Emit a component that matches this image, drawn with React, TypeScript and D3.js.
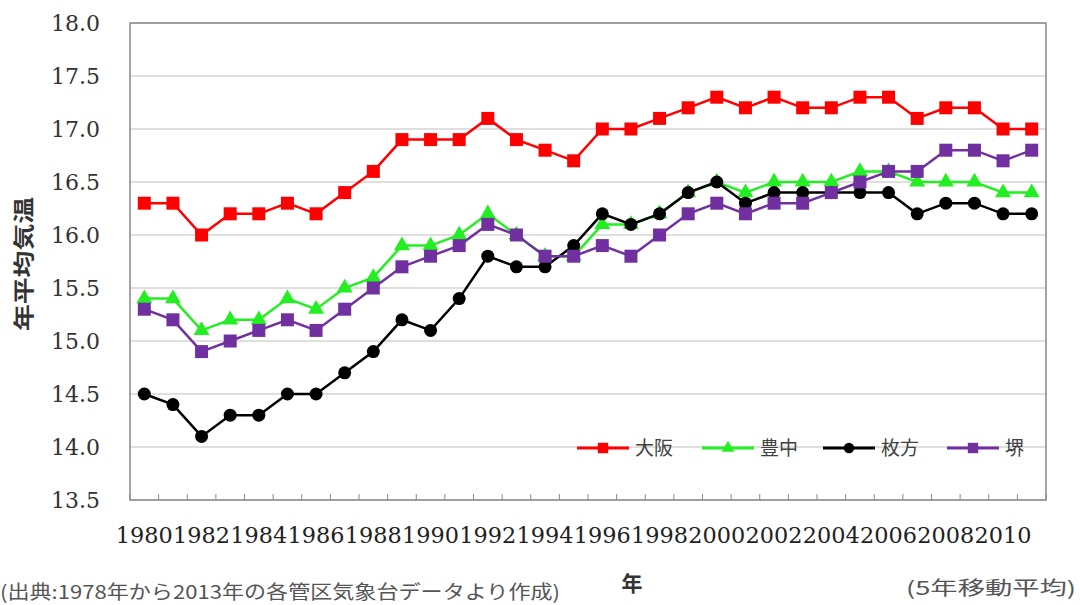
import React from "react";
import * as d3 from "d3";

const years: number[] = Array.from({ length: 32 }, (_, i) => 1980 + i);
const osaka = [16.3, 16.3, 16.0, 16.2, 16.2, 16.3, 16.2, 16.4, 16.6, 16.9, 16.9, 16.9, 17.1, 16.9, 16.8, 16.7, 17.0, 17.0, 17.1, 17.2, 17.3, 17.2, 17.3, 17.2, 17.2, 17.3, 17.3, 17.1, 17.2, 17.2, 17.0, 17.0];
const toyonaka = [15.4, 15.4, 15.1, 15.2, 15.2, 15.4, 15.3, 15.5, 15.6, 15.9, 15.9, 16.0, 16.2, 16.0, 15.8, 15.8, 16.1, 16.1, 16.2, 16.4, 16.5, 16.4, 16.5, 16.5, 16.5, 16.6, 16.6, 16.5, 16.5, 16.5, 16.4, 16.4];
const hirakata = [14.5, 14.4, 14.1, 14.3, 14.3, 14.5, 14.5, 14.7, 14.9, 15.2, 15.1, 15.4, 15.8, 15.7, 15.7, 15.9, 16.2, 16.1, 16.2, 16.4, 16.5, 16.3, 16.4, 16.4, 16.4, 16.4, 16.4, 16.2, 16.3, 16.3, 16.2, 16.2];
const sakai = [15.3, 15.2, 14.9, 15.0, 15.1, 15.2, 15.1, 15.3, 15.5, 15.7, 15.8, 15.9, 16.1, 16.0, 15.8, 15.8, 15.9, 15.8, 16.0, 16.2, 16.3, 16.2, 16.3, 16.3, 16.4, 16.5, 16.6, 16.6, 16.8, 16.8, 16.7, 16.8];
const yTicks = [13.5, 14.0, 14.5, 15.0, 15.5, 16.0, 16.5, 17.0, 17.5, 18.0];
const xLabelYears = years.filter((y) => y % 2 === 0);

type Shape = "square" | "triangle" | "circle";
const series: { name: string; values: number[]; color: string; shape: Shape }[] = [
  { name: "大阪", values: osaka, color: "#ff0000", shape: "square" },
  { name: "豊中", values: toyonaka, color: "#22ee22", shape: "triangle" },
  { name: "枚方", values: hirakata, color: "#000000", shape: "circle" },
  { name: "堺", values: sakai, color: "#7030a0", shape: "square" },
];
const drawOrder = [0, 1, 2, 3];

const W = 1080, H = 605;
const L = 130, R = 1046, T = 23, B = 500;

function Marker({ shape, x, y, color, scale = 1 }: { shape: Shape; x: number; y: number; color: string; scale?: number }) {
  if (shape === "square") {
    const s = 13 * scale;
    return <rect x={x - s / 2} y={y - s / 2} width={s} height={s} fill={color} />;
  }
  if (shape === "circle") {
    return <circle cx={x} cy={y} r={6.5 * scale} fill={color} />;
  }
  const sym = d3.symbol().type(d3.symbolTriangle).size(110 * scale * scale)();
  return <path d={sym || ""} transform={`translate(${x},${y})`} fill={color} />;
}

export default function App() {
  const x = d3.scaleBand<number>().domain(years).range([L, R]).padding(0);
  const y = d3.scaleLinear().domain([13.5, 18.0]).range([B, T]);
  const cx = (yr: number) => (x(yr) as number) + x.bandwidth() / 2;
  const line = d3
    .line<number>()
    .x((_, i) => cx(years[i]))
    .y((d) => y(d));

  const tickXs = years.map((yr) => x(yr) as number).concat([R]);
  const legendX = [577, 702, 823, 947];
  const legendY = 448;

  return (
    <svg width={W} height={H} style={{ position: "absolute", left: 0, top: 0, background: "#fff" }}>
      <rect x={0} y={0} width={W} height={H} fill="#fff" />
      {yTicks.map((t) => (
        <line key={t} x1={L} x2={R} y1={y(t)} y2={y(t)} stroke="#d4d4d4" strokeWidth={1.5} />
      ))}
      <rect x={L} y={T} width={R - L} height={B - T} fill="none" stroke="#8a8a8a" strokeWidth={1.5} />
      {tickXs.map((tx, i) => (
        <line key={i} x1={tx} x2={tx} y1={B} y2={B - 6} stroke="#8a8a8a" strokeWidth={1} />
      ))}
      {yTicks.map((t) => (
        <text key={t} x={100} y={y(t)} dy="0.36em" textAnchor="end" fontFamily="'DejaVu Serif'" fontSize={22} fill="#333">
          {t.toFixed(1)}
        </text>
      ))}
      {xLabelYears.map((yr) => (
        <text key={yr} x={cx(yr)} y={543} textAnchor="middle" fontFamily="'DejaVu Serif'" fontSize={22} fill="#222" textLength={57} lengthAdjust="spacingAndGlyphs">
          {yr}
        </text>
      ))}
      {drawOrder.map((si) => {
        const s = series[si];
        return (
          <g key={s.name}>
            <path d={line(s.values) || ""} fill="none" stroke={s.color} strokeWidth={2.5} />
            {s.values.map((v, i) => (
              <Marker key={i} shape={s.shape} x={cx(years[i])} y={y(v)} color={s.color} />
            ))}
          </g>
        );
      })}
      {series.map((s, i) => (
        <g key={s.name}>
          <line x1={legendX[i]} x2={legendX[i] + 52} y1={legendY} y2={legendY} stroke={s.color} strokeWidth={3} />
          <Marker shape={s.shape} x={legendX[i] + 26} y={legendY} color={s.color} scale={0.8} />
          <text x={legendX[i] + 58} y={legendY} dy="0.36em" fontFamily="'Noto Sans CJK JP'" fontSize={19} fill="#404040">
            {s.name}
          </text>
        </g>
      ))}
      <text transform={`translate(23,264) rotate(-90)`} textAnchor="middle" fontFamily="'Noto Sans CJK JP'" fontWeight="bold" fontSize={21} fill="#333" dy="0.36em" textLength={134} lengthAdjust="spacingAndGlyphs">
        年平均気温
      </text>
      <text x={632} y={583} textAnchor="middle" fontFamily="'Noto Sans CJK JP'" fontWeight="bold" fontSize={21} fill="#333" dy="0.36em">
        年
      </text>
      <text x={0} y={592} dy="0.36em" fontFamily="'Noto Sans CJK JP'" fontSize={19} fill="#555" textLength={560} lengthAdjust="spacingAndGlyphs">
        (出典:1978年から2013年の各管区気象台データより作成)
      </text>
      <text x={1076} y={588} dy="0.36em" textAnchor="end" fontFamily="'Noto Sans CJK JP'" fontSize={19} fill="#555" textLength={170} lengthAdjust="spacingAndGlyphs">
        (5年移動平均)
      </text>
    </svg>
  );
}
